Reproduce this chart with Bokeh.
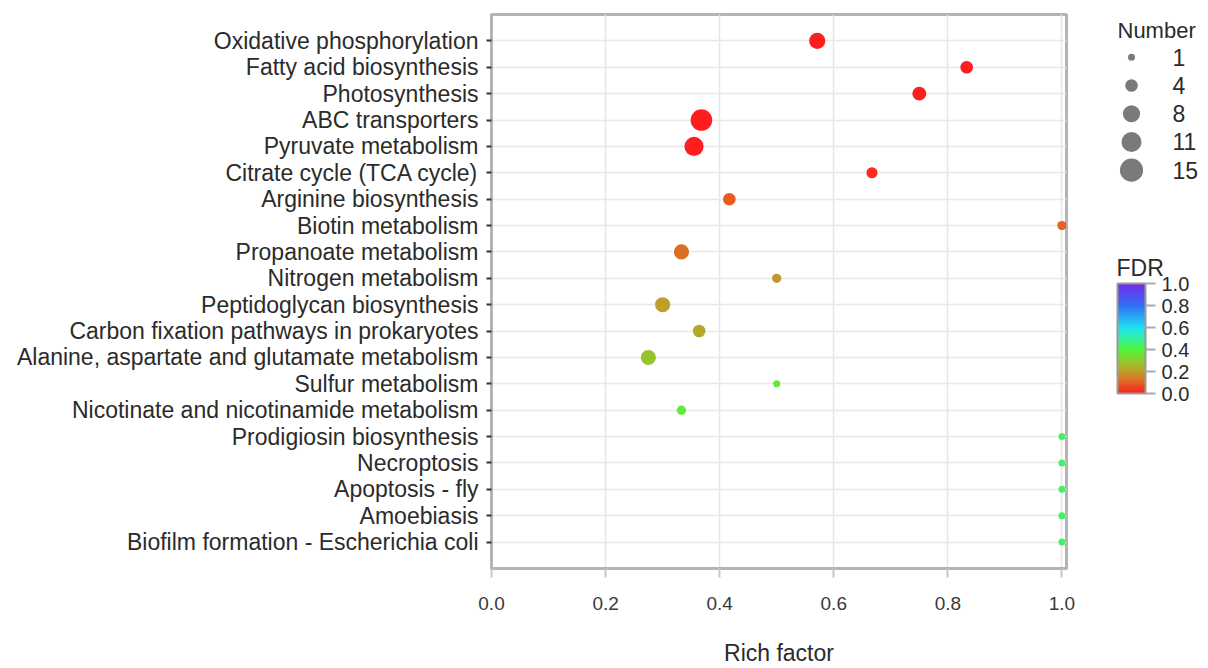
import numpy as np
from bokeh.plotting import figure
from bokeh.layouts import row
from bokeh.models import (Range1d, FixedTicker, ColumnDataSource, LinearColorMapper,
                          ColorBar, PrintfTickFormatter, Label)
from bokeh.transform import linear_cmap
from bokeh.core.properties import value
from bokeh.embed import file_html
from bokeh.resources import INLINE

# ---------------- data (top to bottom) ----------------
pathways = [
    "Oxidative phosphorylation",
    "Fatty acid biosynthesis",
    "Photosynthesis",
    "ABC transporters",
    "Pyruvate metabolism",
    "Citrate cycle (TCA cycle)",
    "Arginine biosynthesis",
    "Biotin metabolism",
    "Propanoate metabolism",
    "Nitrogen metabolism",
    "Peptidoglycan biosynthesis",
    "Carbon fixation pathways in prokaryotes",
    "Alanine, aspartate and glutamate metabolism",
    "Sulfur metabolism",
    "Nicotinate and nicotinamide metabolism",
    "Prodigiosin biosynthesis",
    "Necroptosis",
    "Apoptosis - fly",
    "Amoebiasis",
    "Biofilm formation - Escherichia coli",
]
rich_factor = [0.571, 0.833, 0.750, 0.368, 0.355, 0.667, 0.417, 1.0, 0.333, 0.500,
               0.300, 0.364, 0.275, 0.500, 0.333, 1.0, 1.0, 1.0, 1.0, 1.0]
gene_number = [7, 4, 5, 13, 10, 3, 4, 2, 6, 2, 6, 4, 6, 1, 2, 1, 1, 1, 1, 1]
fdr = [0.0, 0.0, 0.0, 0.0, 0.0, 0.02, 0.09, 0.10, 0.12, 0.19, 0.20, 0.22, 0.28,
       0.37, 0.38, 0.44, 0.44, 0.44, 0.44, 0.44]

legend_numbers = [1, 4, 8, 11, 15]
x_ticks = [0.0, 0.2, 0.4, 0.6, 0.8, 1.0]
fdr_ticks = [0.0, 0.2, 0.4, 0.6, 0.8, 1.0]

# ---------------- styles ----------------
FONT = "Liberation Sans"
TXT = "#2b2b2b"
FRAME = "#b4b4b4"
TOP, BOTTOM = 14, 98


def hexc(c):
    return "#%02x%02x%02x" % tuple(int(round(v)) for v in c)


stops = [(0.0, (255, 30, 30)), (0.1, (228, 98, 36)), (0.2, (190, 160, 40)),
         (0.3, (140, 205, 45)), (0.4, (80, 245, 60)), (0.5, (50, 240, 160)),
         (0.6, (30, 225, 245)), (0.8, (50, 110, 245)), (1.0, (115, 40, 235))]
palette = []
for k in range(256):
    t = k / 255
    for (a, ca), (b, cb) in zip(stops[:-1], stops[1:]):
        if a <= t <= b:
            f = (t - a) / (b - a)
            palette.append(hexc([ca[i] + (cb[i] - ca[i]) * f for i in range(3)]))
            break


def dot_size(n):
    return 1.4 + 5.6 * np.sqrt(n)


N = len(pathways)
ypos = [N - i for i in range(N)]
src = ColumnDataSource(dict(x=rich_factor, y=ypos, n=gene_number, fdr=fdr,
                            size=[dot_size(v) for v in gene_number]))

p = figure(width=1090, height=668, x_range=Range1d(0, 1.008), y_range=Range1d(0, N + 1),
           output_backend="svg", toolbar_location=None,
           min_border_left=491, min_border_right=24, min_border_top=TOP,
           min_border_bottom=BOTTOM)
p.outline_line_color = FRAME
p.outline_line_width = 3

p.xaxis.ticker = FixedTicker(ticks=x_ticks)
p.xaxis.formatter = PrintfTickFormatter(format="%.1f")
p.xaxis.axis_label = "Rich factor"
p.xaxis.axis_label_text_font = FONT
p.xaxis.axis_label_text_font_size = "23px"
p.xaxis.axis_label_text_font_style = "normal"
p.xaxis.axis_label_text_color = TXT
p.xaxis.axis_label_standoff = 27
p.xaxis.major_label_text_font = FONT
p.xaxis.major_label_text_font_size = "19px"
p.xaxis.major_label_text_color = "#3a3a3a"
p.xaxis.major_label_standoff = 19
p.xaxis.axis_line_color = FRAME
p.xaxis.axis_line_width = 3
p.xaxis.major_tick_line_color = "#c8c8c8"
p.xaxis.major_tick_line_width = 2
p.xaxis.major_tick_out = 9
p.xaxis.major_tick_in = 0
p.xaxis.minor_tick_line_color = None

p.yaxis.ticker = FixedTicker(ticks=ypos)
p.yaxis.major_label_overrides = {y: name for y, name in zip(ypos, pathways)}
p.yaxis.major_label_text_font = FONT
p.yaxis.major_label_text_font_size = "23px"
p.yaxis.major_label_text_color = TXT
p.yaxis.major_label_standoff = 8
p.yaxis.axis_line_color = FRAME
p.yaxis.axis_line_width = 3
p.yaxis.major_tick_line_color = "#333333"
p.yaxis.major_tick_line_width = 2
p.yaxis.major_tick_out = 5
p.yaxis.major_tick_in = 0
p.yaxis.minor_tick_line_color = None

p.xgrid.ticker = FixedTicker(ticks=x_ticks)
p.xgrid.grid_line_color = "#e6e6e6"
p.xgrid.grid_line_width = 1.5
p.ygrid.ticker = FixedTicker(ticks=ypos)
p.ygrid.grid_line_color = "#e8e8e8"
p.ygrid.grid_line_width = 1.5

p.scatter("x", "y", size="size", source=src, line_color=None,
          fill_color=linear_cmap("fdr", palette, 0, 1))

# ---------------- legend panel (data coords == page pixels) ----------------
lg = figure(width=118, height=668, x_range=Range1d(1090, 1208),
            y_range=Range1d(668 - BOTTOM, TOP),
            output_backend="svg", toolbar_location=None,
            min_border_left=0, min_border_right=0, min_border_top=TOP,
            min_border_bottom=BOTTOM, x_axis_type=None, y_axis_type=None)
lg.grid.visible = False
lg.outline_line_color = None

leg_y = [57 + 28.3 * i for i in range(len(legend_numbers))]
lsrc = ColumnDataSource(dict(x=[1131] * len(legend_numbers), y=leg_y,
                             size=[dot_size(v) for v in legend_numbers]))
lg.scatter("x", "y", size="size", source=lsrc, fill_color="#7a7a7a", line_color=None)
for yv, num in zip(leg_y, legend_numbers):
    lg.add_layout(Label(x=1172, y=yv, text=str(num), text_font=FONT, text_font_size="23px",
                        text_baseline="middle", text_align="left", text_color=TXT))
lg.add_layout(Label(x=1117, y=30, text="Number", text_font=FONT, text_font_size="22px",
                    text_baseline="alphabetic", text_align="left", text_color=TXT))
lg.add_layout(Label(x=1116, y=268, text="FDR", text_font=FONT, text_font_size="23px",
                    text_baseline="middle", text_align="left", text_color=TXT))

cb = ColorBar(color_mapper=LinearColorMapper(palette=palette, low=0, high=1),
              ticker=FixedTicker(ticks=fdr_ticks),
              formatter=PrintfTickFormatter(format="%.1f"),
              width=28, height=110, location=(27, 175), padding=0,
              major_label_text_font=FONT, major_label_text_font_size="20px",
              major_label_text_color=TXT, label_standoff=6,
              major_tick_in=0, major_tick_out=10, major_tick_line_color="#aaaaaa",
              major_tick_line_width=2, minor_tick_line_color=None,
              bar_line_color="#9a9a9a", bar_line_width=2,
              background_fill_color=None, border_line_color=None)
lg.add_layout(cb)

layout = row(p, lg)
open("out.html", "w").write(file_html(layout, INLINE))
